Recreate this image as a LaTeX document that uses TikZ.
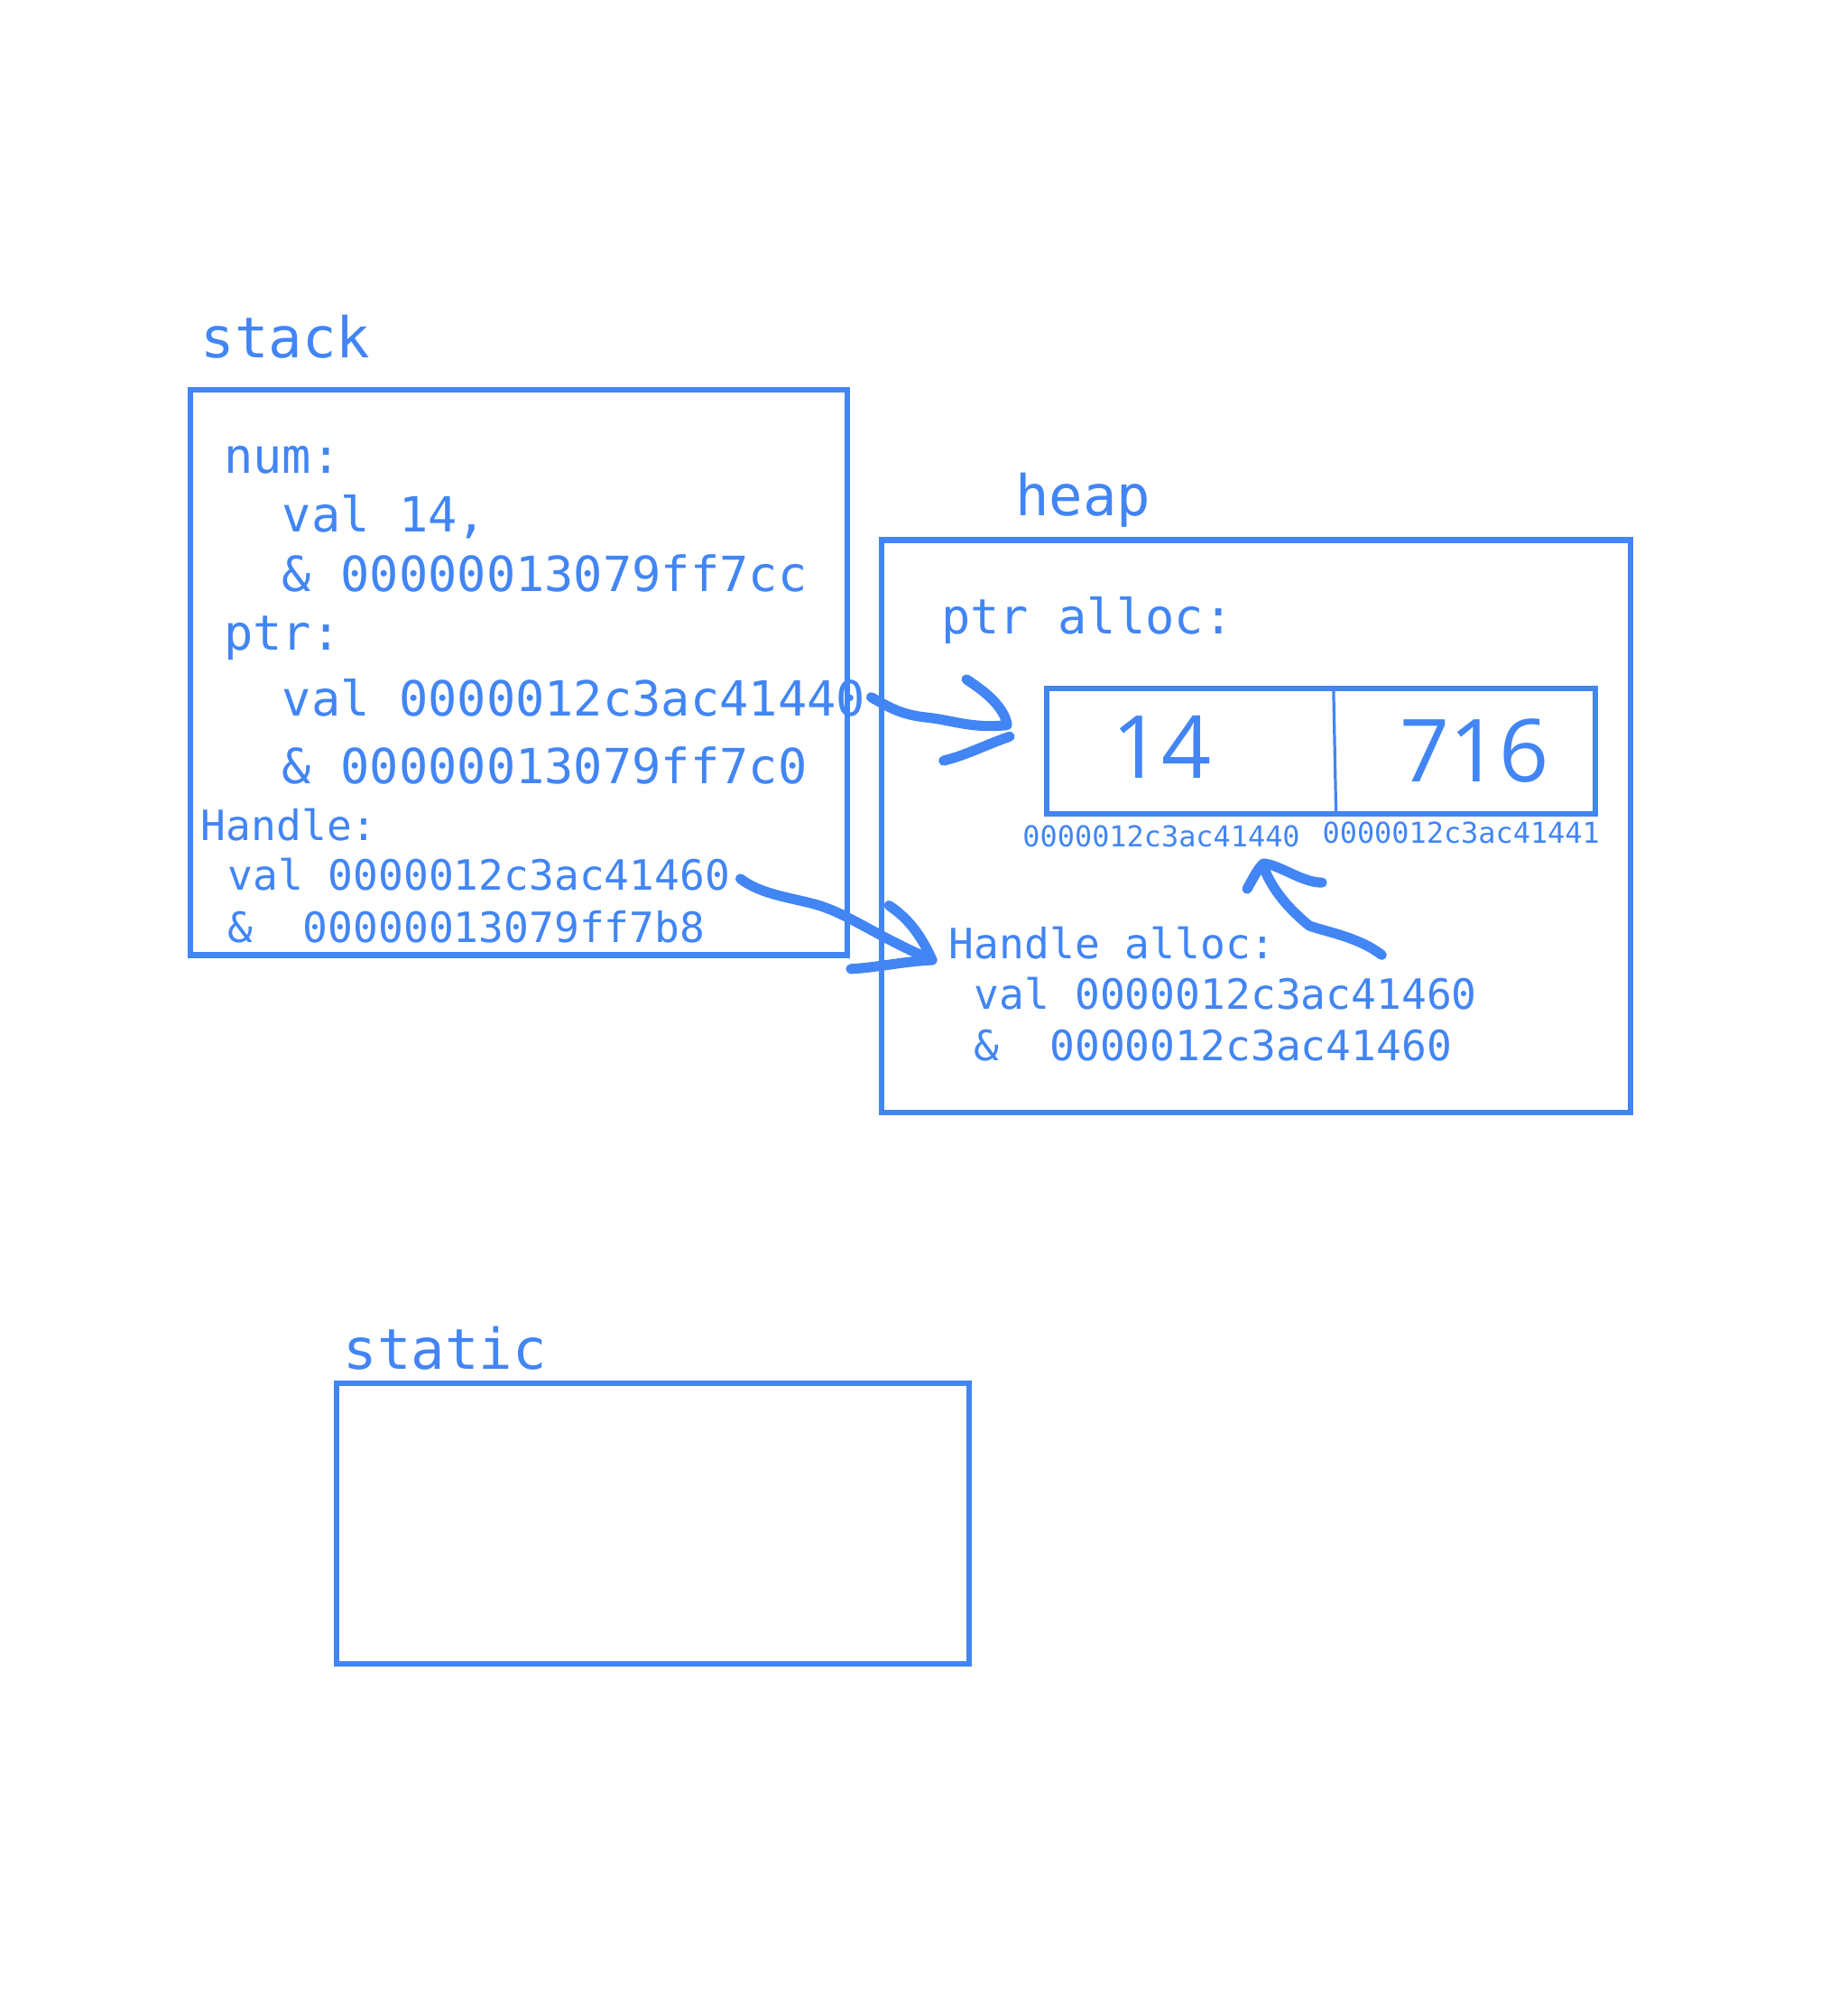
\documentclass[tikz,border=0pt]{standalone}
\usepackage{fontspec}
\setmonofont{DejaVu Sans Mono}
\newfontfamily\numfont{Open Sans}
\definecolor{gblue}{RGB}{66,133,244}
\begin{document}
\begin{tikzpicture}[x=0.02cm,y=-0.02cm,
  box/.style={draw=gblue, line width=2.5pt, inner sep=0pt, anchor=north west},
  txt/.style={text=gblue, anchor=base west, inner sep=0pt},
  title/.style={txt, font=\ttfamily\fontsize{25.2}{30}\selectfont},
  big/.style={txt, font=\ttfamily\fontsize{21.7}{26}\selectfont},
  mid/.style={txt, font=\ttfamily\fontsize{18.7}{22}\selectfont},
  small/.style={txt, font=\ttfamily\fontsize{12.9}{15}\selectfont},
  num/.style={text=gblue, inner sep=0pt, font=\numfont\fontsize{39}{44}\selectfont},
  stroke/.style={draw=gblue, line width=4.5pt, line cap=round, line join=round}]
\useasboundingbox (0,0) rectangle (1454.6,1571);
% boxes
\node[box, minimum width=10.34cm, minimum height=8.9cm] (stack) at (148,305) {};
\node[box, minimum width=11.8cm, minimum height=9.02cm] (heap) at (692,423) {};
\node[box, minimum width=8.64cm, minimum height=1.98cm] (cells) at (822,540) {};
\node[box, minimum width=9.96cm, minimum height=4.42cm] (static) at (263,1087) {};
\coordinate (divT) at (1050,540);
\coordinate (divB) at (1052,639);
\draw[gblue, line width=1.3pt] (divT) -- (divB);
% titles
\node[title] (tstack) at (158,282) {stack};
\node[title] (theap) at (799,406) {heap};
\node[title] (tstatic) at (270,1078) {static};
% stack text
\node[big] (l1) at (176,373) {num:};
\node[big] (l2) at (222,419) {val 14,};
\node[big] (l3) at (222,466) {\& 00000013079ff7cc};
\node[big] (l4) at (176,512) {ptr:};
\node[big] (l5) at (222,564) {val 0000012c3ac41440};
\node[big] (l6) at (222,617) {\& 00000013079ff7c0};
\node[mid] (l7) at (158,662) {Handle:};
\node[mid] (l8) at (179,701) {val 0000012c3ac41460};
\node[mid] (l9) at (179,742) {\&\ \ 00000013079ff7b8};
% heap text
\node[big] (h1) at (741,499) {ptr alloc:};
\node[num] (c1) at (915,588) {14};
\node[num] (c2) at (1161,591) {716};
\node[small] (a1) at (805,667) {0000012c3ac41440};
\node[small] (a2) at (1041,664) {0000012c3ac41441};
\node[mid] (h2) at (747,755) {Handle alloc:};
\node[mid] (h3) at (767,795) {val 0000012c3ac41460};
\node[mid] (h4) at (767,835) {\&\ \ 0000012c3ac41460};
% arrow 1 : ptr -> cell
\coordinate (p1s) at (686,549);
\coordinate (p1e) at (793,571);
\draw[stroke] (p1s) .. controls (700,557) and (710,563) .. (730,565)
  .. controls (750,567) and (765,574) .. (p1e);
\draw[stroke] (761,535) .. controls (778,546) and (790,557) .. (793,570);
\draw[stroke] (743,599) .. controls (760,595) and (775,587) .. (795,580);
% arrow 2 : Handle -> Handle alloc
\coordinate (p2s) at (583,692);
\coordinate (p2e) at (734,756);
\draw[stroke] (p2s) .. controls (600,705) and (625,707) .. (645,713)
  .. controls (670,721) and (690,737) .. (p2e);
\draw[stroke] (700,713) .. controls (715,723) and (725,736) .. (734,756);
\draw[stroke] (670,763) .. controls (690,762) and (712,757) .. (734,756);
% arrow 3 : Handle alloc -> address
\coordinate (p3s) at (1088,752);
\coordinate (p3e) at (995,683);
\draw[stroke] (p3s) .. controls (1070,738) and (1045,734) .. (1031,729)
  .. controls (1015,716) and (1002,701) .. (p3e);
\draw[stroke] (982,700) .. controls (987,691) and (991,683) .. (995,680);
\draw[stroke] (995,680) .. controls (1008,681) and (1025,695) .. (1041,695);
\end{tikzpicture}
\end{document}
